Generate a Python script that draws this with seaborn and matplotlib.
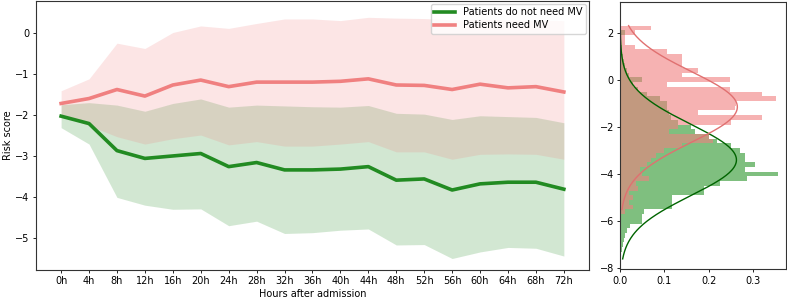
import numpy as np
import pandas as pd
import matplotlib
matplotlib.use("Agg")
import matplotlib.pyplot as plt
import seaborn as sns

# ---------------- data ----------------
hours = ["0h", "4h", "8h", "12h", "16h", "20h", "24h", "28h", "32h", "36h",
         "40h", "44h", "48h", "52h", "56h", "60h", "64h", "68h", "72h"]

mv_mean = [-1.71, -1.59, -1.37, -1.53, -1.26, -1.14, -1.30, -1.19, -1.19, -1.19,
           -1.17, -1.11, -1.26, -1.27, -1.37, -1.24, -1.33, -1.30, -1.43]
mv_upper = [-1.40, -1.11, -0.24, -0.37, 0.02, 0.18, 0.12, 0.24, 0.35, 0.35,
            0.31, 0.39, 0.37, 0.36, 0.33, 0.34, 0.33, 0.32, 0.31]
mv_lower = [-2.00, -2.25, -2.52, -2.70, -2.57, -2.48, -2.72, -2.64, -2.75, -2.75,
            -2.70, -2.64, -2.89, -2.89, -3.07, -2.95, -2.94, -2.95, -3.07]

nomv_mean = [-2.02, -2.20, -2.86, -3.05, -2.99, -2.93, -3.25, -3.15, -3.33, -3.33,
             -3.31, -3.25, -3.58, -3.55, -3.82, -3.67, -3.63, -3.63, -3.80]
nomv_upper = [-1.74, -1.69, -1.75, -1.90, -1.71, -1.60, -1.80, -1.75, -1.77, -1.79,
              -1.80, -1.76, -1.95, -1.97, -2.10, -2.01, -2.03, -2.05, -2.18]
nomv_lower = [-2.30, -2.70, -4.00, -4.19, -4.29, -4.28, -4.69, -4.58, -4.88, -4.86,
              -4.80, -4.77, -5.16, -5.15, -5.49, -5.33, -5.22, -5.24, -5.43]

# histogram (density per bin, bins of width 0.2 from -7.7 to 2.9)
hist_edges = [round(-7.7 + 0.2 * i, 2) for i in range(54)]
nomv_density = [0.002, 0.002, 0.004, 0.006, 0.008, 0.011, 0.015, 0.023, 0.049, 0.049,
                0.053, 0.117, 0.117, 0.117, 0.19, 0.19, 0.226, 0.286, 0.357, 0.283,
                0.305, 0.283, 0.283, 0.27, 0.25, 0.22, 0.2, 0.17, 0.16, 0.13,
                0.115, 0.11, 0.107, 0.105, 0.09, 0.06, 0.04, 0.03, 0.049, 0.02,
                0.015, 0.01, 0.008, 0.006, 0.005, 0.004, 0.003, 0.003, 0.01, 0.002,
                0.002, 0.002, 0.001]
mv_density = [0, 0, 0, 0, 0, 0, 0, 0, 0, 0,
              0.01, 0.03, 0.02, 0.03, 0.02, 0.04, 0.035, 0.065, 0.05, 0.045,
              0.06, 0.07, 0.08, 0.10, 0.14, 0.21, 0.20, 0.11, 0.13, 0.25,
              0.32, 0.177, 0.26, 0.263, 0.353, 0.32, 0.248, 0.105, 0.248, 0.14,
              0.175, 0.14, 0.14, 0.14, 0.105, 0.034, 0.01, 0.01, 0.034, 0.07,
              0, 0, 0]

# fitted normal curves (mean, sd, range of data)
nomv_fit = (-3.40, 1.517, -7.6, 2.8)
mv_fit = (-1.15, 1.505, -5.5, 2.3)

labels = ["Patients do not need MV", "Patients need MV"]
green = "forestgreen"
red = "lightcoral"

# ---------------- figure ----------------
fig = plt.figure(figsize=(7.87, 3.0), dpi=100)
ax = fig.add_axes([0.0457, 0.100, 0.7027, 0.897])
ax2 = fig.add_axes([0.788, 0.1017, 0.2107, 0.8913])

idx = np.arange(len(hours))
df = pd.DataFrame({
    "t": np.concatenate([idx, idx]),
    "score": nomv_mean + mv_mean,
    "group": [labels[0]] * len(idx) + [labels[1]] * len(idx),
})

ax.fill_between(idx, nomv_lower, nomv_upper, color=green, alpha=0.2, linewidth=0)
ax.fill_between(idx, mv_lower, mv_upper, color=red, alpha=0.2, linewidth=0)
sns.lineplot(data=df, x="t", y="score", hue="group", hue_order=labels,
             palette=[green, red], linewidth=2.6, ax=ax)

ax.set_xticks(idx)
ax.set_xticklabels(hours)
ax.set_xlim(-0.9, 18.9)
ax.set_ylim(-5.77, 0.79)
ax.set_yticks([0, -1, -2, -3, -4, -5])
ax.set_xlabel("Hours after admission", fontsize=7, labelpad=2)
ax.set_ylabel("Risk score", fontsize=7, labelpad=2)
ax.tick_params(labelsize=7, length=2.5, width=0.6, pad=2)
ax.legend(loc="upper right", fontsize=7, frameon=True, borderaxespad=0.3,
          handlelength=2.2, labelspacing=0.3, borderpad=0.35)

# right panel: histograms
centers = [(hist_edges[i] + hist_edges[i + 1]) / 2 for i in range(len(hist_edges) - 1)]
hdf_g = pd.DataFrame({"y": centers, "w": nomv_density})
hdf_r = pd.DataFrame({"y": centers, "w": mv_density})
sns.histplot(data=hdf_g, y="y", weights="w", bins=hist_edges, color="green",
             alpha=0.5, linewidth=0, ax=ax2)
sns.histplot(data=hdf_r, y="y", weights="w", bins=hist_edges, color=red,
             alpha=0.6, linewidth=0, ax=ax2)

for (mu, sd, lo, hi), c in [(nomv_fit, "darkgreen"), (mv_fit, "#e07070")]:
    yy = np.linspace(lo, hi, 300)
    pdf = np.exp(-0.5 * ((yy - mu) / sd) ** 2) / (sd * np.sqrt(2 * np.pi))
    ax2.plot(pdf, yy, color=c, linewidth=1.0)

ax2.set_xlim(0, 0.375)
ax2.set_ylim(-8.05, 3.3)
ax2.set_yticks([2, 0, -2, -4, -6, -8])
ax2.set_xticks([0.0, 0.1, 0.2, 0.3])
ax2.set_xlabel("")
ax2.set_ylabel("")
ax2.tick_params(labelsize=7, length=2.5, width=0.6, pad=2)

for a in (ax, ax2):
    for s in a.spines.values():
        s.set_linewidth(0.8)
        s.set_color("#333333")

fig.savefig("out.png", dpi=100)
